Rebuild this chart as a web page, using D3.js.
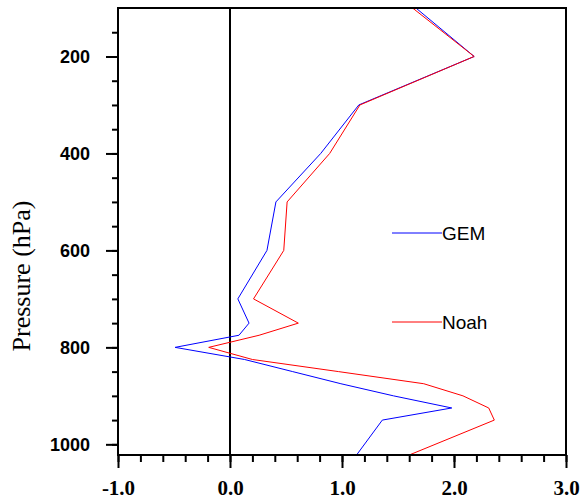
<!DOCTYPE html>
<html>
<head>
<meta charset="utf-8">
<script src="https://cdn.jsdelivr.net/npm/d3@7"></script>
<style>
  body { margin: 0; background: #fff; }
</style>
</head>
<body>
<script>
(function (d3) {
  'use strict';

  // pressure levels (hPa), last one is the surface
  const levels = [100, 200, 300, 400, 500, 600, 700, 750, 775, 800, 825, 850, 875, 900, 925, 950, 1022];
  const gem = [1.66, 2.18, 1.15, 0.81, 0.41, 0.33, 0.07, 0.17, 0.08, -0.49, 0.13, 0.56, 0.99, 1.46, 1.98, 1.36, 1.13];
  const noah = [1.63, 2.18, 1.16, 0.89, 0.51, 0.48, 0.21, 0.61, 0.26, -0.19, 0.20, 0.97, 1.73, 2.08, 2.31, 2.36, 1.60];

  const xTicks = [-1, 0, 1, 2, 3];
  const yTicks = [200, 400, 600, 800, 1000];
  const seriesNames = ['GEM', 'Noah'];

  const width = 582;
  const height = 502;
  const margin = { top: 8, right: 16, bottom: 47, left: 118 };

  const svg = d3.select('body')
    .append('svg')
    .attr('width', width)
    .attr('height', height);

  const x = d3.scaleLinear()
    .domain([-1, 3])
    .range([margin.left, width - margin.right]);

  const y = d3.scaleLinear()
    .domain([100, 1022])
    .range([margin.top, height - margin.bottom]);

  const series = [
    { name: seriesNames[0], values: gem, color: '#0000ff', ly: 233 },
    { name: seriesNames[1], values: noah, color: '#ff0000', ly: 322 },
  ];

  // zero line
  svg.append('line')
    .attr('x1', x(0)).attr('x2', x(0))
    .attr('y1', y(100)).attr('y2', y(1022))
    .attr('stroke', '#000')
    .attr('stroke-width', 2);

  const line = d3.line()
    .x((d) => x(d[1]))
    .y((d) => y(d[0]));

  series.forEach((s) => {
    svg.append('path')
      .datum(levels.map((p, i) => [p, s.values[i]]))
      .attr('fill', 'none')
      .attr('stroke', s.color)
      .attr('stroke-width', 1)
      .attr('d', line);

    svg.append('line')
      .attr('x1', 392).attr('x2', 442)
      .attr('y1', s.ly).attr('y2', s.ly)
      .attr('stroke', s.color)
      .attr('stroke-width', 1);

    svg.append('text')
      .attr('x', 442)
      .attr('y', s.ly + 7)
      .attr('font-family', 'Liberation Sans, Arial, sans-serif')
      .attr('font-size', 19)
      .text(s.name);
  });

  // frame
  svg.append('rect')
    .attr('x', margin.left)
    .attr('y', margin.top)
    .attr('width', width - margin.left - margin.right)
    .attr('height', height - margin.top - margin.bottom)
    .attr('fill', 'none')
    .attr('stroke', '#000')
    .attr('stroke-width', 2);

  // left axis: minor then major
  const yMinor = svg.append('g')
    .attr('transform', `translate(${margin.left},0)`)
    .call(d3.axisLeft(y).tickValues(d3.range(150, 1001, 50)).tickSize(6).tickFormat(''));
  yMinor.select('.domain').remove();
  yMinor.selectAll('line').attr('stroke-width', 2);

  const yAxis = svg.append('g')
    .attr('transform', `translate(${margin.left},0)`)
    .call(d3.axisLeft(y).tickValues(yTicks).tickSize(12).tickPadding(16).tickFormat(d3.format('d')));
  yAxis.select('.domain').remove();
  yAxis.selectAll('line').attr('stroke-width', 2);
  yAxis.selectAll('text')
    .attr('font-family', 'Liberation Sans, Arial, sans-serif')
    .attr('font-weight', 'bold')
    .attr('font-size', 18)
    .attr('fill', '#000');

  // bottom axis
  const xMinor = svg.append('g')
    .attr('transform', `translate(0,${height - margin.bottom})`)
    .call(d3.axisBottom(x).tickValues(d3.range(-1, 3.01, 0.2)).tickSize(7).tickFormat(''));
  xMinor.select('.domain').remove();
  xMinor.selectAll('line').attr('stroke-width', 2);

  const xAxis = svg.append('g')
    .attr('transform', `translate(0,${height - margin.bottom})`)
    .call(d3.axisBottom(x).tickValues(xTicks).tickSize(13).tickPadding(12).tickFormat(d3.format('.1f')));
  xAxis.select('.domain').remove();
  xAxis.selectAll('line').attr('stroke-width', 2);
  xAxis.selectAll('text')
    .attr('font-family', 'Liberation Serif, Times New Roman, serif')
    .attr('font-weight', 'bold')
    .attr('font-size', 21)
    .attr('fill', '#000')
    .text((d) => d3.format('.1f')(d).replace('\u2212', '-'));

  // y title
  svg.append('text')
    .attr('transform', 'translate(30,276) rotate(-90)')
    .attr('text-anchor', 'middle')
    .attr('font-family', 'Liberation Serif, Times New Roman, serif')
    .attr('font-size', 26)
    .text('Pressure (hPa)');

})(d3);
</script>
</body>
</html>
